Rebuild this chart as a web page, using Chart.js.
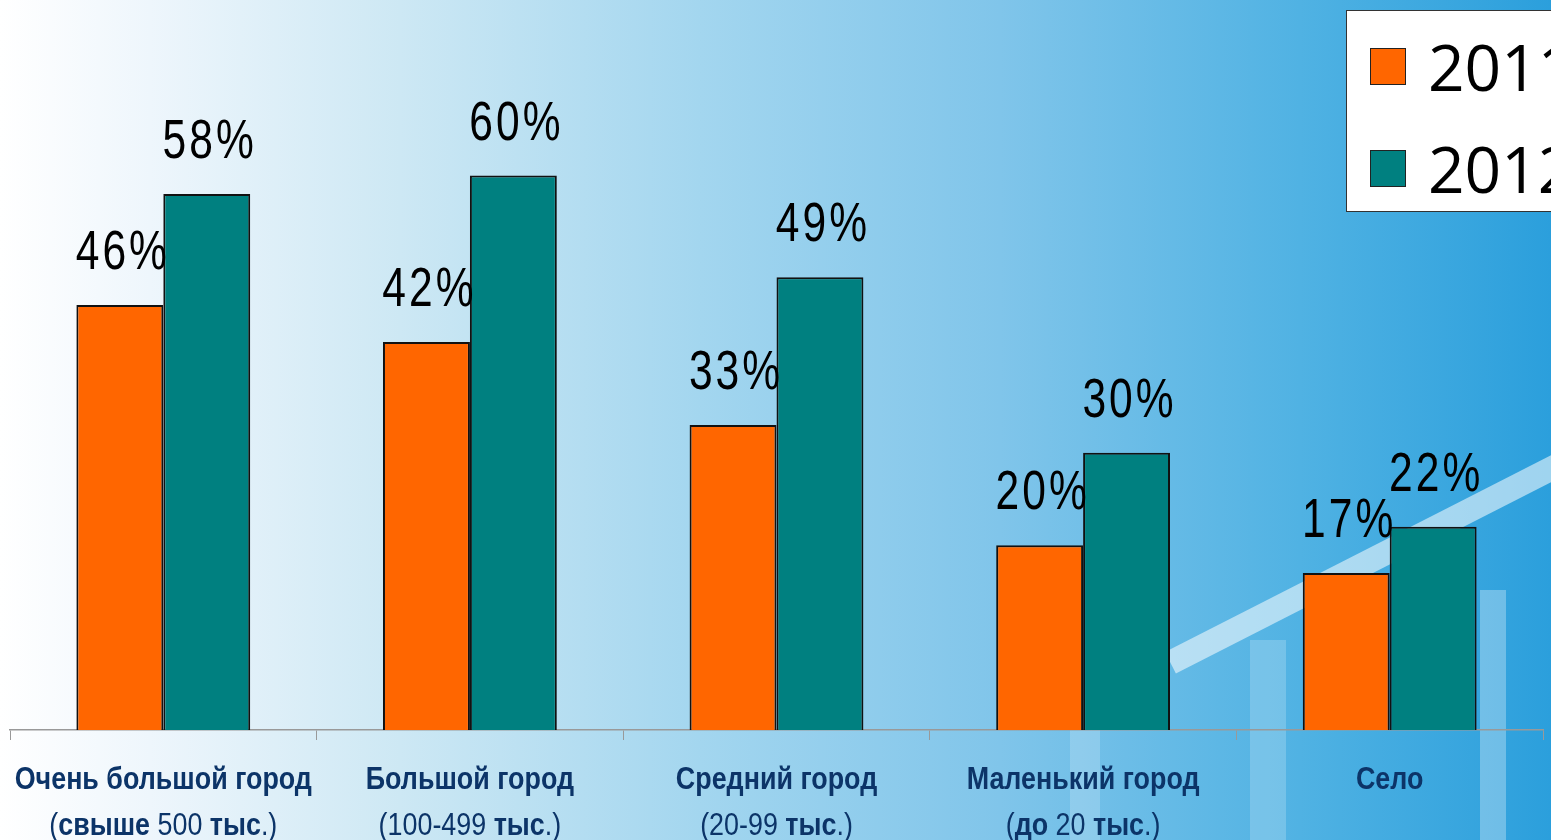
<!DOCTYPE html>
<html lang="ru">
<head>
<meta charset="UTF-8">
<title>Город / село, 2011–2012</title>
<script src="https://cdn.jsdelivr.net/npm/chart.js"></script>
<style>
    html, body { margin: 0; padding: 0; }
    body { width: 1551px; height: 840px; overflow: hidden; position: relative;
           background: linear-gradient(90deg, #ffffff 0px, #eef6fc 150px, #cde8f4 400px, #a3d6ef 700px, #80c5ea 1000px, #50b2e3 1300px, #2b9fdc 1551px); }
    .deco { position: absolute; background: rgba(255,255,255,0.3); }
    #wrap { position: absolute; left: 0; top: 0; width: 1551px; height: 840px; }
    #legend { position: absolute; left: 1346px; top: 10px; width: 230px; height: 202px;
              background: #fff; border: 1px solid #333; box-sizing: border-box; }
    .item { position: absolute; left: 23px; height: 70px; display: flex; align-items: center;
            font-family: "Open Sans", sans-serif; font-size: 64px; color: #000; }
    .item i { display: inline-block; width: 34px; height: 35px; border: 1.5px solid #222; margin-right: 22px; }
</style>
</head>
<body>
<div class="deco" style="left:1165px; top:652px; width:460px; height:24px; transform: rotate(-27deg); transform-origin: 0 0; background: rgba(255,255,255,0.55);"></div>
<div class="deco" style="left:1480px; top:590px; width:26px; height:250px;"></div>
<div class="deco" style="left:1250px; top:640px; width:36px; height:200px; background: rgba(255,255,255,0.2);"></div>
<div class="deco" style="left:1070px; top:700px; width:30px; height:140px; background: rgba(255,255,255,0.2);"></div>
<div id="wrap"><canvas id="chart" width="1551" height="840"></canvas></div>
<div id="legend"></div>

<script>
    // данные
    const categories = ['Очень большой город', 'Большой город', 'Средний город', 'Маленький город', 'Село'];
    // вторая строка подписи, *...* = жирный
    const subLabels = ['(*свыше* 500 *тыс*.)', '(100-499 *тыс*.)', '(20-99 *тыс*.)', '(*до* 20 *тыс*.)', ''];
    const years = ['2011', '2012'];
    const values2011 = [46, 42, 33, 20, 17];
    const values2012 = [58, 60, 49, 30, 22];
    const colors = ['#ff6600', '#008080'];

    // узкий текст: сжимаем по горизонтали
    function narrowText(ctx, text, x, y, sx) {
        ctx.save();
        ctx.translate(x, y);
        ctx.scale(sx, 1);
        ctx.fillText(text, 0, 0);
        ctx.restore();
    }

    const valueLabels = {
        id: 'valueLabels',
        afterDatasetsDraw(chart) {
            const ctx = chart.ctx;
            ctx.save();
            ctx.font = '56px "Liberation Sans", sans-serif';
            ctx.letterSpacing = '4px';
            ctx.fillStyle = '#000';
            ctx.textAlign = 'center';
            ctx.textBaseline = 'alphabetic';
            chart.data.datasets.forEach((ds, i) => {
                chart.getDatasetMeta(i).data.forEach((bar, j) => {
                    narrowText(ctx, ds.data[j] + '%', bar.x + 3, bar.y - 36, 0.76);
                });
            });
            ctx.restore();
        }
    };

    const catLabels = {
        id: 'catLabels',
        afterDraw(chart) {
            const ctx = chart.ctx;
            const x = chart.scales.x;
            const sx = 0.84;
            ctx.save();
            ctx.fillStyle = '#0c3468';
            ctx.textBaseline = 'alphabetic';
            const bold = 'bold 32px "Liberation Sans", sans-serif';
            const light = '32px "Liberation Sans", sans-serif';
            categories.forEach((name, i) => {
                const cx = x.getPixelForValue(i);
                ctx.font = bold;
                ctx.textAlign = 'center';
                narrowText(ctx, name, cx, 789, sx);
                // строка с разным начертанием
                const parts = subLabels[i].split('*').map((t, k) => ({ t, b: k % 2 === 1 })).filter(p => p.t);
                let w = 0;
                parts.forEach(p => { ctx.font = p.b ? bold : light; p.w = ctx.measureText(p.t).width * sx; w += p.w; });
                let px = cx - w / 2;
                ctx.textAlign = 'left';
                parts.forEach(p => { ctx.font = p.b ? bold : light; narrowText(ctx, p.t, px, 835, sx); px += p.w; });
            });
            ctx.restore();
        }
    };

    const chart = new Chart(document.getElementById('chart'), {
        type: 'bar',
        data: {
            labels: categories,
            datasets: [
                { label: years[0], data: values2011, backgroundColor: colors[0], borderColor: '#111', borderWidth: 2 },
                { label: years[1], data: values2012, backgroundColor: colors[1], borderColor: '#111', borderWidth: 2 }
            ]
        },
        options: {
            responsive: false,
            animation: false,
            layout: { padding: { left: 10, right: 8, top: 0, bottom: 100 } },
            plugins: { legend: { display: false }, tooltip: { enabled: false } },
            datasets: { bar: { categoryPercentage: 0.567, barPercentage: 1 } },
            scales: {
                x: {
                    grid: { offset: true, drawOnChartArea: false, color: '#999', tickLength: 10 },
                    border: { color: '#999', width: 1.5 },
                    ticks: { display: false }
                },
                y: { display: false, min: 0, max: 79 }
            }
        },
        plugins: [valueLabels, catLabels]
    });

    // легенда
    const legend = document.getElementById('legend');
    chart.data.datasets.forEach((ds, i) => {
        const d = document.createElement('div');
        d.className = 'item';
        d.style.top = (20 + i * 102) + 'px';
        d.innerHTML = '<i style="background:' + ds.backgroundColor + '"></i>' + ds.label;
        legend.appendChild(d);
    });
</script>
</body>
</html>
